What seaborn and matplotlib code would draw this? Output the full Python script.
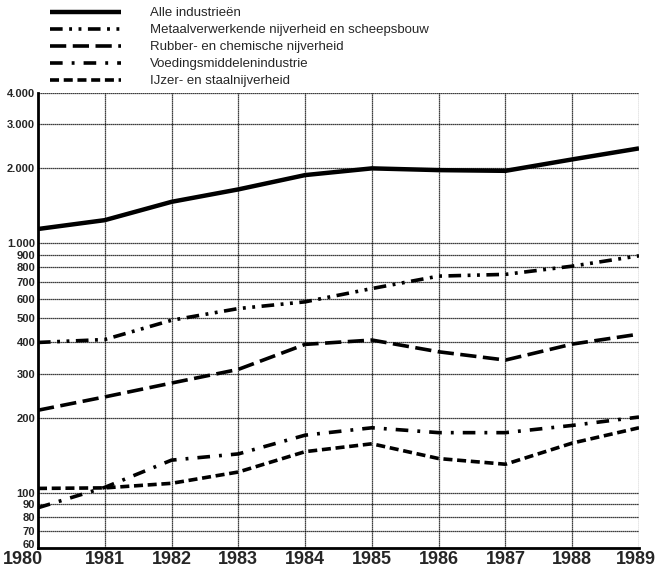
import numpy as np
import pandas as pd
import matplotlib
matplotlib.use("Agg")
import matplotlib.pyplot as plt
import matplotlib.ticker as mticker
import matplotlib.transforms as mtransforms
import seaborn as sns

years = list(range(1980, 1990))
alle = [1140, 1237, 1465, 1643, 1875, 1995, 1963, 1950, 2167, 2399]
metaal = [400, 411, 491, 547, 582, 658, 738, 750, 809, 890]
rubber = [214, 242, 275, 312, 393, 409, 367, 340, 394, 432]
voeding = [87, 105, 135, 143, 170, 182, 174, 174, 186, 201]
ijzer = [104, 104.5, 109, 121, 146, 157, 137, 130, 158, 182]

labels = ["Alle industrieën",
          "Metaalverwerkende nijverheid en scheepsbouw",
          "Rubber- en chemische nijverheid",
          "Voedingsmiddelenindustrie",
          "IJzer- en staalnijverheid"]
yticks = [60, 70, 80, 90, 100, 200, 300, 400, 500, 600, 700, 800, 900,
          1000, 2000, 3000, 4000]

df = pd.DataFrame({"jaar": years, labels[0]: alle, labels[1]: metaal,
                   labels[2]: rubber, labels[3]: voeding, labels[4]: ijzer})

sns.set_style("white")
plt.rcParams["font.family"] = ["Liberation Sans", "DejaVu Sans"]

styles = {
    labels[0]: dict(linestyle="-", linewidth=3.2),
    labels[1]: dict(linestyle=(0, (3.5, 1.8, 0.8, 1.8, 0.8, 1.8)), linewidth=2.6),
    labels[2]: dict(linestyle=(0, (4.5, 1.8)), linewidth=2.6),
    labels[3]: dict(linestyle=(0, (3.5, 2.5, 0.8, 2.5)), linewidth=2.6),
    labels[4]: dict(linestyle=(0, (2.5, 1.3)), linewidth=2.6),
}

fig = plt.figure(figsize=(6.59, 5.69), dpi=100)
ax = fig.add_axes([38 / 659, 1 - 548 / 569, 601 / 659, 455 / 569])

for lab in labels:
    sns.lineplot(data=df, x="jaar", y=lab, ax=ax, color="black", label=lab,
                 solid_capstyle="butt", dash_capstyle="butt", **styles[lab])

ax.set_yscale("log")
ax.set_ylim(60, 4000)
ax.set_xlim(1980, 1989)
ax.yaxis.set_major_locator(mticker.FixedLocator(yticks))
ax.yaxis.set_minor_locator(mticker.NullLocator())
ax.yaxis.set_major_formatter(mticker.FuncFormatter(
    lambda v, p: f"{int(v):,}".replace(",", ".")))
ax.set_xticks(years)
ax.set_xlabel("")
ax.set_ylabel("")

ax.grid(True, which="major", color="black", linestyle=(0, (1, 0.6)), linewidth=0.9)
ax.set_axisbelow(True)
for s in ["top", "right"]:
    ax.spines[s].set_visible(False)
for s in ["left", "bottom"]:
    ax.spines[s].set_linewidth(2)
    ax.spines[s].set_color("black")

ax.tick_params(axis="y", length=0, pad=2, labelsize=8)
ax.tick_params(axis="x", length=0, pad=2.5, labelsize=13)
ylabs = ax.get_yticklabels()
for t in ylabs:
    t.set_fontweight("bold")
# lift the lowest label clear of the year labels
ylabs[0].set_transform(ylabs[0].get_transform() +
                       mtransforms.ScaledTranslation(0, 4 / 100, fig.dpi_scale_trans))
xlabs = ax.get_xticklabels()
for t in xlabs:
    t.set_fontweight("bold")
# keep the outer year labels inside the figure
xlabs[0].set_transform(xlabs[0].get_transform() +
                       mtransforms.ScaledTranslation(-15 / 100, 0, fig.dpi_scale_trans))
xlabs[-1].set_transform(xlabs[-1].get_transform() +
                        mtransforms.ScaledTranslation(-3 / 100, 0, fig.dpi_scale_trans))

handles, lbls = ax.get_legend_handles_labels()
ax.get_legend().remove()
fig.legend(handles, lbls, loc="upper left", bbox_to_anchor=(50 / 659, 1 - 7 / 569),
           frameon=False, fontsize=9.5, handlelength=5.4, handletextpad=2.2,
           labelspacing=0.36, borderaxespad=0, borderpad=0)

fig.savefig("out.png", dpi=100)
